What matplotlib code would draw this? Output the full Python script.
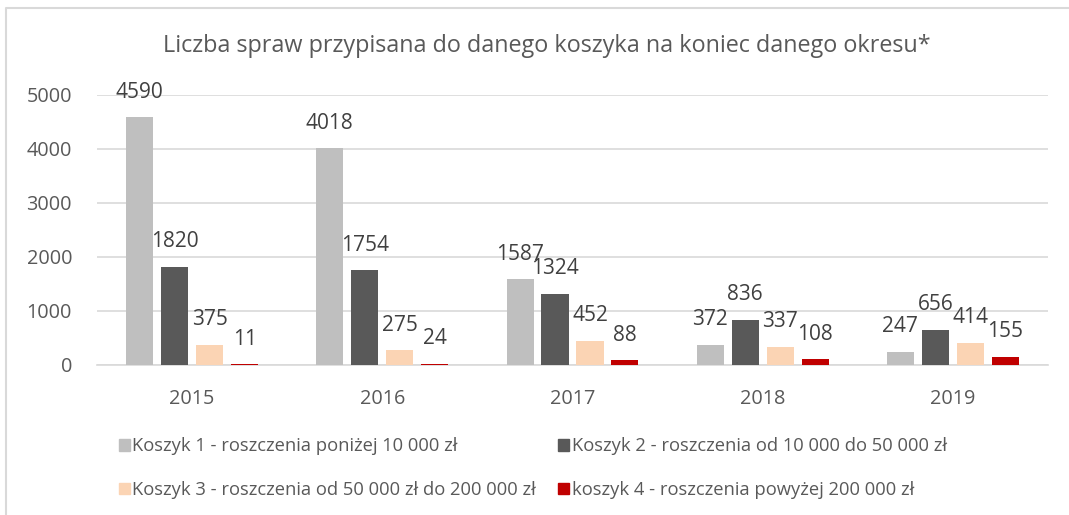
import matplotlib
matplotlib.use("Agg")
import matplotlib.pyplot as plt
import numpy as np
from matplotlib.lines import Line2D
from matplotlib.patches import Rectangle

plt.rcParams["font.family"] = ["Open Sans", "DejaVu Sans"]

years = ["2015", "2016", "2017", "2018", "2019"]
koszyk1 = [4590, 4018, 1587, 372, 247]
koszyk2 = [1820, 1754, 1324, 836, 656]
koszyk3 = [375, 275, 452, 337, 414]
koszyk4 = [11, 24, 88, 108, 155]
labels = [
    "Koszyk 1 - roszczenia poniżej 10 000 zł",
    "Koszyk 2 - roszczenia od 10 000 do 50 000 zł",
    "Koszyk 3 - roszczenia od 50 000 zł do 200 000 zł",
    "koszyk 4 - roszczenia powyżej 200 000 zł",
]
colors = ["#BFBFBF", "#595959", "#FBD4B4", "#C00000"]
TXT = "#595959"
LBL = "#404040"
GRID = "#D9D9D9"

W, H = 1069, 515
fig = plt.figure(figsize=(W / 100, H / 100), dpi=100)
ax = fig.add_axes([97 / W, 1 - 365 / H, (1048 - 97) / W, (365 - 95) / H])

x = np.arange(len(years))
series = [koszyk1, koszyk2, koszyk3, koszyk4]
bw, step = 0.142, 0.184
for i, vals in enumerate(series):
    xs = x + (i - 1.5) * step
    ax.bar(xs, vals, width=bw, color=colors[i], zorder=3)
    for xi, v in zip(xs, vals):
        ax.annotate(str(v), (xi, v), xytext=(0, 18), textcoords="offset points",
                    ha="center", va="center", fontsize=15, color=LBL,
                    annotation_clip=False, zorder=4)

ax.set_xlim(-0.5, len(years) - 0.5)
ax.set_ylim(0, 5000)
ax.set_yticks(range(0, 5001, 1000))
ax.set_xticks(x)
ax.set_xticklabels(years)
ax.tick_params(length=0, labelsize=14.3, colors=TXT)
ax.tick_params(axis="y", pad=18)
ax.tick_params(axis="x", pad=17)
ax.grid(axis="y", color=GRID, lw=1.2, zorder=0)
for s in ["top", "right", "left"]:
    ax.spines[s].set_visible(False)
ax.spines["bottom"].set_color(GRID)
ax.spines["bottom"].set_linewidth(1.2)

fig.text(547 / W, 1 - 46 / H,
         "Liczba spraw przypisana do danego koszyka na koniec danego okresu*",
         ha="center", va="center", fontsize=16.8, color=TXT)

handles = [Rectangle((0, 0), 1, 1, color=c) for c in colors]
order = [0, 2, 1, 3]
leg = fig.legend([handles[i] for i in order], [labels[i] for i in order],
                 ncol=2, loc="center", bbox_to_anchor=(533 / W, 1 - 468 / H),
                 frameon=False, fontsize=13.2, handlelength=0.6, handleheight=0.6,
                 handletextpad=0.15, columnspacing=1.2, labelspacing=1.4)
for t in leg.get_texts():
    t.set_color(TXT)

fig.add_artist(Line2D([6 / W, 6 / W, 1], [0, 1 - 8 / H, 1 - 8 / H],
                      transform=fig.transFigure, color=GRID, lw=1.5))

fig.savefig("out.png", dpi=100, facecolor="white")
